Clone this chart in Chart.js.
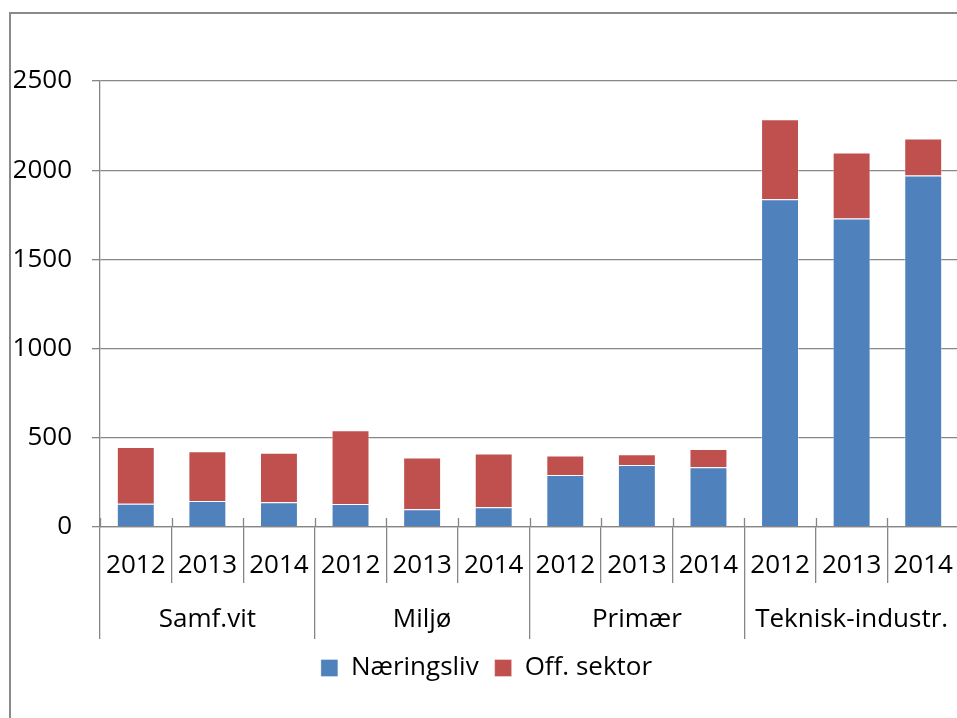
<!DOCTYPE html>
<html>
<head>
<meta charset="utf-8">
<script src="https://cdn.jsdelivr.net/npm/chart.js@4.4.1/dist/chart.umd.min.js"></script>
<style>
  html, body { margin: 0; padding: 0; background: #fff; overflow: hidden; }
  #wrap { position: relative; width: 957px; height: 718px; overflow: hidden; }
  #frame { position: absolute; left: 9px; top: 12px; width: 980px; height: 740px; border: 2px solid #8a8a8a; }
  #box { position: absolute; left: 0; top: 0; width: 962px; height: 718px; }
</style>
</head>
<body>
<div id="wrap">
  <div id="frame"></div>
  <div id="box"><canvas id="myChart" width="962" height="718"></canvas></div>
</div>
<script>
// kategorier
const years = ['2012', '2013', '2014', '2012', '2013', '2014', '2012', '2013', '2014', '2012', '2013', '2014'];
const groups = ['Samf.vit', 'Miljø', 'Primær', 'Teknisk-industr.'];

// verdier
const naeringsliv = [131, 146, 139, 129, 99, 111, 292, 347, 335, 1837, 1729, 1970];
const offSektor = [317, 279, 277, 414, 290, 301, 109, 61, 102, 448, 370, 208];

const yTicks = [0, 500, 1000, 1500, 2000, 2500];

const gridColor = '#868686';
const fontFamily = '"Open Sans", Lato, sans-serif';

Chart.defaults.font.family = fontFamily;
Chart.defaults.font.size = 26;
Chart.defaults.color = '#000';

// små streker over x-aksen ved hver kategorigrense
const tickStubs = {
  id: 'tickStubs',
  afterDraw(chart) {
    const xs = chart.scales.x;
    const c = chart.ctx;
    c.save();
    c.strokeStyle = gridColor;
    c.lineWidth = 1.3;
    c.beginPath();
    for (let i = 0; i <= years.length; i++) {
      const px = Math.round(xs.getPixelForValue(i - 0.5)) + 0.5;
      c.moveTo(px, xs.top - 9);
      c.lineTo(px, xs.top);
    }
    c.stroke();
    c.restore();
  },
};

const ctx = document.getElementById('myChart').getContext('2d');
const chart = new Chart(ctx, {
  type: 'bar',
  data: {
    labels: years,
    datasets: [
      {
        label: 'Næringsliv',
        data: naeringsliv,
        backgroundColor: '#4F81BD',
        borderColor: 'rgba(255,255,255,0.35)',
        borderWidth: 1,
        categoryPercentage: 1,
        barPercentage: 0.53,
      },
      {
        label: 'Off. sektor',
        data: offSektor,
        backgroundColor: '#C0504D',
        borderColor: 'rgba(255,255,255,0.35)',
        borderWidth: 1,
        categoryPercentage: 1,
        barPercentage: 0.53,
      },
    ],
  },
  plugins: [tickStubs],
  options: {
    responsive: false,
    animation: false,
    devicePixelRatio: 1,
    layout: {
      padding: { top: 81, left: 14, right: 3, bottom: 27 },
    },
    plugins: {
      title: { display: false },
      tooltip: { enabled: false },
      legend: {
        position: 'bottom',
        labels: {
          boxWidth: 17,
          boxHeight: 17,
          padding: 16,
          font: { size: 26 },
        },
      },
    },
    scales: {
      x: {
        stacked: true,
        weight: 0,
        offset: true,
        afterFit: (scale) => { scale.height = 56; },
        grid: {
          offset: true,
          drawOnChartArea: false,
          tickLength: 56,
          color: gridColor,
          lineWidth: 1.3,
        },
        border: { color: gridColor, width: 1.3 },
        ticks: { padding: -33, maxRotation: 0, autoSkip: false },
      },
      x2: {
        type: 'category',
        labels: groups,
        position: 'bottom',
        weight: 1,
        offset: true,
        min: 0,
        max: 3,
        afterFit: (scale) => { scale.height = 56; },
        grid: {
          offset: true,
          drawOnChartArea: false,
          tickLength: 56,
          color: gridColor,
          lineWidth: 1.3,
        },
        border: { display: false },
        ticks: { padding: -35, maxRotation: 0, autoSkip: false },
      },
      y: {
        stacked: true,
        min: 0,
        max: 2500,
        afterFit: (scale) => { scale.width = 86; },
        afterBuildTicks: (scale) => {
          scale.ticks = yTicks.map(v => ({ value: v }));
        },
        grid: {
          color: gridColor,
          lineWidth: 1.3,
          tickLength: 8,
        },
        border: { color: gridColor, width: 1.3 },
        ticks: { padding: 20, callback: (v) => String(v) },
      },
    },
  },
});
</script>
</body>
</html>
